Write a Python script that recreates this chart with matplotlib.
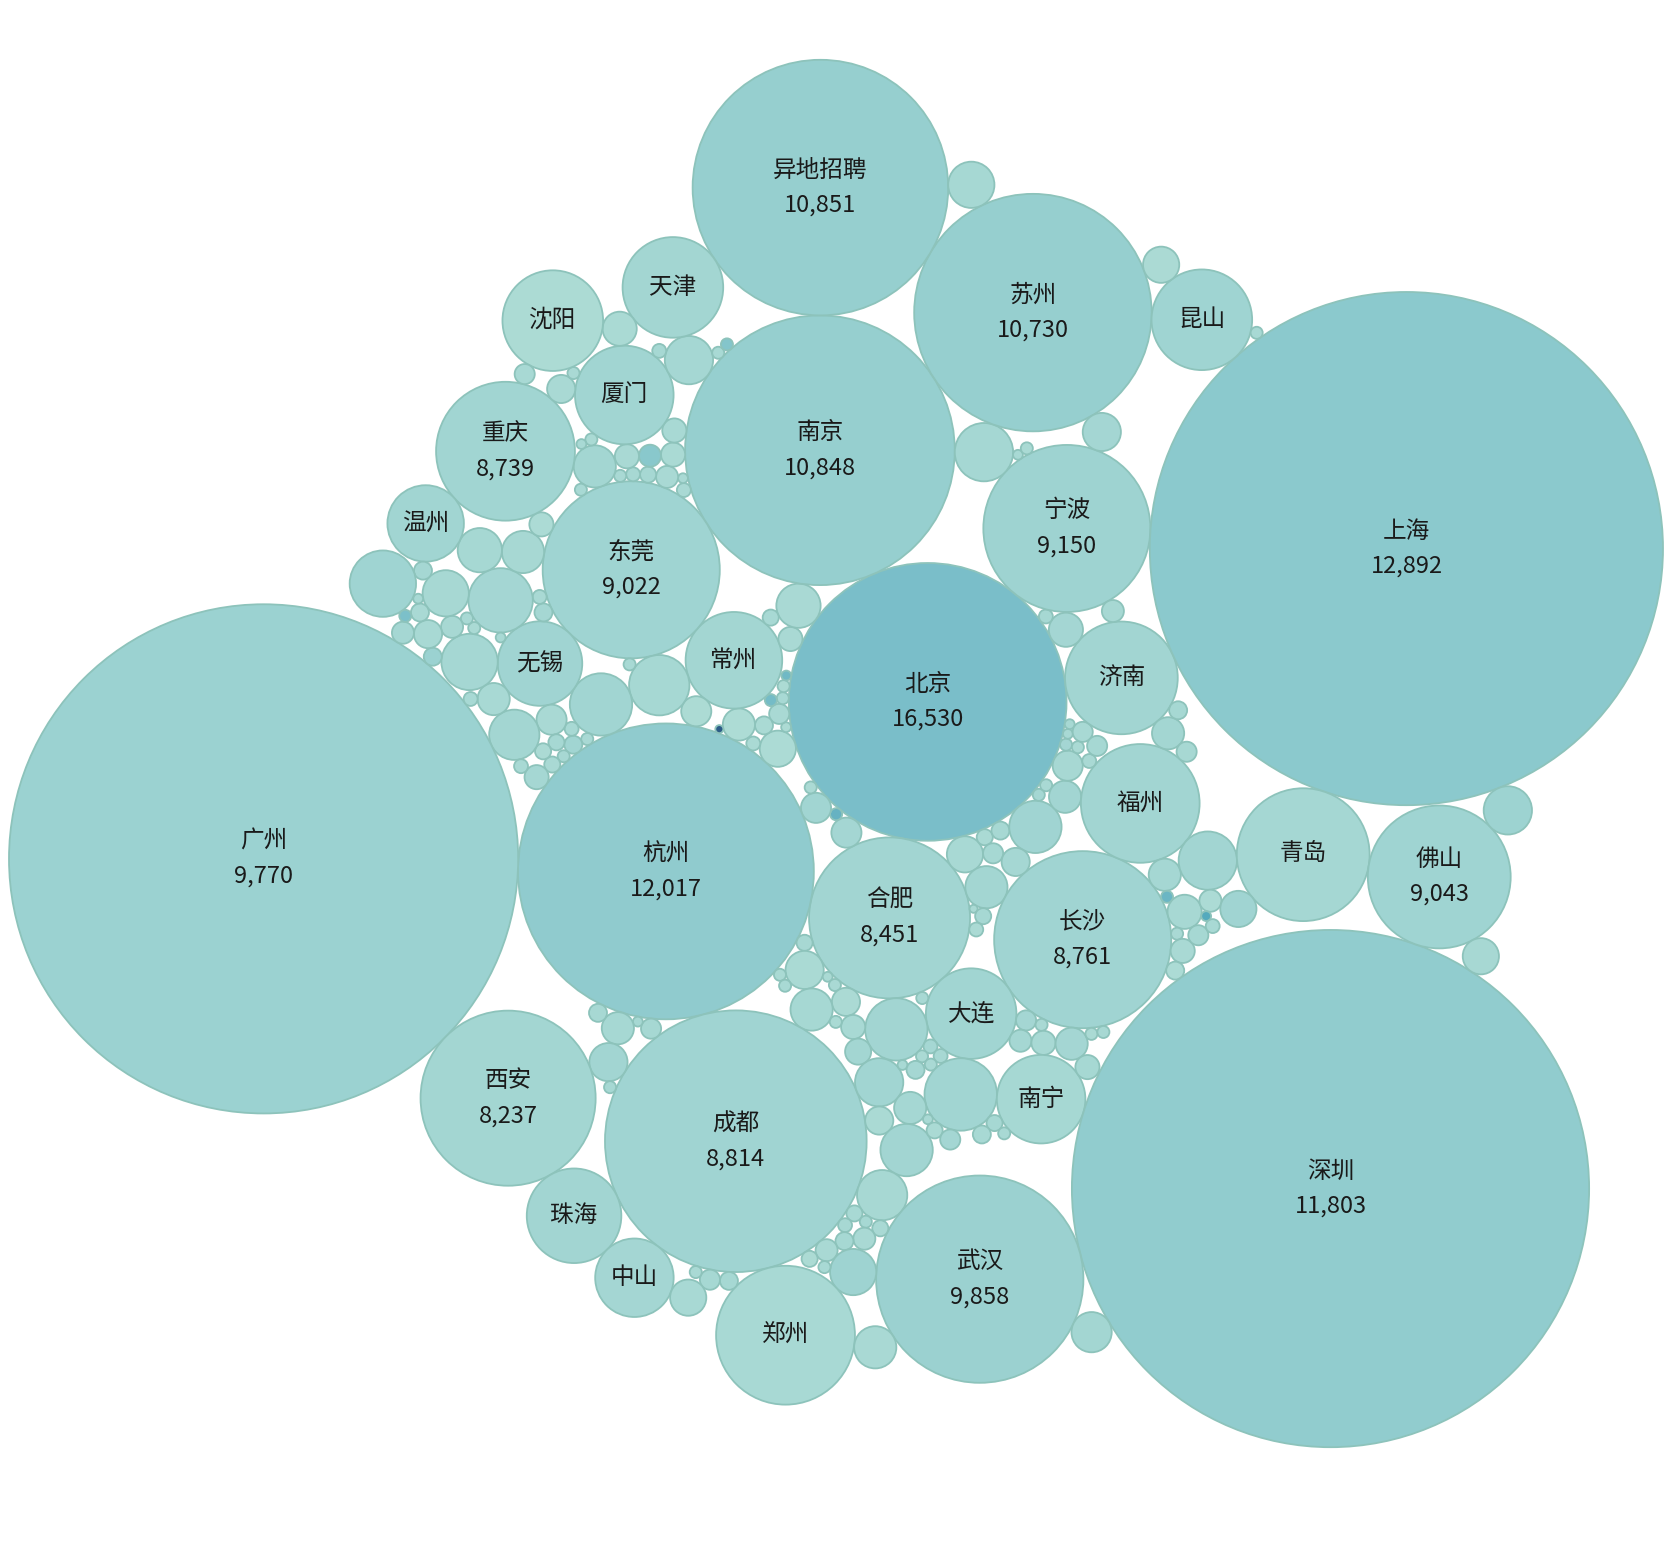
import numpy as np
import matplotlib
matplotlib.use('Agg')
import matplotlib.pyplot as plt
from matplotlib.colors import LinearSegmentedColormap, Normalize
from matplotlib.patches import Circle

# named cities: job count (bubble size) and average salary (colour + label)
cities = ['北京', '合肥', '杭州', '长沙', '福州', '大连', '常州', '济南', '南京', '宁波',
          '东莞', '成都', '上海', '青岛', '南宁', '无锡', '深圳', '佛山', '苏州', '昆山',
          '武汉', '广州', '西安', '异地招聘', '厦门', '珠海', '重庆', '温州', '天津', '郑州',
          '中山', '沈阳']
city_jobs = [4761, 1600, 5402, 1936, 870, 506, 576, 784, 4489, 1722,
             1936, 4225, 16256, 1089, 484, 441, 16512, 1260, 3481, 625,
             2652, 16002, 1892, 4032, 600, 552, 1190, 361, 625, 1190,
             380, 625]
city_salary = [16530, 8451, 12017, 8761, 8500, 8700, 8300, 8400, 10848, 9150,
               9022, 8814, 12892, 8000, 7700, 8900, 11803, 9043, 10730, 9000,
               9858, 9770, 8237, 10851, 8600, 8500, 8739, 8600, 8300, 7500,
               8200, 6800]
show_value = [True, True, True, True, False, False, False, False, True, True,
              True, True, True, False, False, False, True, True, True, False,
              True, True, True, True, False, False, True, False, False, False,
              False, False]

# unlabeled small cities
small_jobs = [81, 56, 9, 16, 56, 20, 9, 25, 169,
              110, 49, 81, 9, 4, 9, 6, 64, 56, 25, 20, 16, 12, 9, 9, 12, 9, 6, 12, 64, 9, 6, 9, 6,
              36, 16, 25, 25, 121, 72, 64, 4, 90, 56, 16, 9, 12, 9, 6, 9, 210, 240,
              30, 49, 110, 36, 64, 225,
              240, 25, 9, 9, 12, 25, 42, 20, 144,
              210, 30, 9, 9, 12, 9, 6, 20, 9, 324, 36, 64, 72, 30, 64, 9, 9, 9, 36, 36, 25,
              9, 9, 20, 6, 25, 12, 81, 49, 169, 6, 6,
              20, 16, 12, 12, 16, 25, 9, 9, 56, 90, 16, 156, 20, 16, 16,
              9, 6, 36, 156, 64, 90, 12, 6, 30, 20, 64, 20, 36, 16, 30, 36, 12, 12,
              256, 16, 9, 9, 144, 36, 110, 144, 196, 12, 110, 9, 6,
              9, 16, 9, 9,
              12, 36, 30, 20, 20, 30, 121, 132, 9, 9, 30,
              6, 9, 49, 16, 9,
              132, 20, 12, 49, 20, 110, 72, 100, 30, 20, 9, 6, 9, 81, 272, 25, 25, 81, 9, 132, 81,
              9]
small_salary = [7400, 8200, 20500, 7000, 8600, 7600, 6900, 7800, 8900,
                8300, 7900, 6600, 8000, 7000, 7200, 6800, 8400, 7600, 7300, 7100, 7800, 6900, 7500,
                8100, 7000, 6700, 7400, 7200, 6300, 17500, 18500, 7000, 7600,
                7200, 7600, 7400, 7800, 7300, 8200, 8300, 48000, 7000, 6800, 7400, 7100, 7700, 7500,
                7000, 7300, 7900, 8400,
                7600, 6900, 7800, 7400, 8000, 7700,
                8600, 8200, 7500, 7000, 7900, 7600, 8300, 7800, 8700,
                8400, 7900, 7300, 19500, 7600, 7100, 7400, 8000, 7200, 8600, 7500, 8100, 7600, 6500,
                8000, 7200, 7400, 7000, 7700, 7300, 7800,
                7600, 7200, 6600, 23500, 7800, 7400, 8800, 7000, 8500, 7500, 7300,
                8600, 7800, 7500, 7300, 7100, 8200, 7600, 7000, 7300, 8100, 7700, 7600, 7400, 7200, 6900,
                7500, 7700, 7900, 8300, 7800, 8400, 7400, 7200, 7300, 7600, 7500, 7900, 7100, 7700,
                13500, 7400, 7600, 7200,
                8200, 7400, 7700, 7200, 9400, 7300, 7600, 7900, 8000, 7500, 8300, 7100, 7400,
                7500, 7300, 7800, 7100,
                7600, 6500, 7200, 9800, 7700, 7300, 7800, 9100, 7500, 7400, 7600,
                7500, 14500, 7300, 6800, 7400,
                7600, 8000, 7800, 7500, 7300, 7200, 7100, 8300, 8000, 7700, 16000, 7500, 7200, 6900,
                9000, 7800, 7400, 7600, 7300, 7800, 7400,
                7500]

palette = ['#bce4d8', '#aedcd5', '#a1d5d2', '#95cecf', '#89c8cc', '#7ec1ca', '#72bac6',
           '#66b2c2', '#59acbe', '#4ba5ba', '#419eb6', '#3b96b2', '#358ead', '#3586a7',
           '#347ea1', '#32779b', '#316f96', '#2f6790', '#2d608a', '#2c5985']


def pack_siblings(radii):
    """front-chain circle packing (same idea as d3.packSiblings)"""
    n = len(radii)
    r = np.asarray(radii, dtype=float)
    x = np.zeros(n)
    y = np.zeros(n)

    def place(p, q, c):
        dx, dy = x[p] - x[q], y[p] - y[q]
        d2 = dx * dx + dy * dy
        if d2:
            a2 = (r[q] + r[c]) ** 2
            b2 = (r[p] + r[c]) ** 2
            if a2 > b2:
                t = (d2 + b2 - a2) / (2 * d2)
                s = np.sqrt(max(0.0, b2 / d2 - t * t))
                x[c] = x[p] - t * dx - s * dy
                y[c] = y[p] - t * dy + s * dx
            else:
                t = (d2 + a2 - b2) / (2 * d2)
                s = np.sqrt(max(0.0, a2 / d2 - t * t))
                x[c] = x[q] + t * dx - s * dy
                y[c] = y[q] + t * dy + s * dx
        else:
            x[c] = x[q] + r[c]
            y[c] = y[q]

    def hits(i, j):
        dr = r[i] + r[j] - 1e-6
        return dr > 0 and dr * dr > (x[j] - x[i]) ** 2 + (y[j] - y[i]) ** 2

    def score(i):
        j = nxt[i]
        ab = r[i] + r[j]
        cx = (x[i] * r[j] + x[j] * r[i]) / ab
        cy = (y[i] * r[j] + y[j] * r[i]) / ab
        return cx * cx + cy * cy

    x[0] = -r[1]
    x[1] = r[0]
    place(1, 0, 2)
    nxt = {0: 1, 1: 2, 2: 0}
    prv = {1: 0, 2: 1, 0: 2}
    a, b = 0, 1
    i = 3
    while i < n:
        place(a, b, i)
        j, k, sj, sk = nxt[b], prv[a], r[b], r[a]
        retry = False
        while True:
            if sj <= sk:
                if hits(j, i):
                    b = j
                    nxt[a], prv[b] = b, a
                    retry = True
                    break
                sj += r[j]
                j = nxt[j]
            else:
                if hits(k, i):
                    a = k
                    nxt[a], prv[b] = b, a
                    retry = True
                    break
                sk += r[k]
                k = prv[k]
            if j == nxt[k]:
                break
        if retry:
            continue
        prv[i], nxt[i] = a, b
        nxt[a] = i
        prv[b] = i
        b = i
        aa = score(a)
        c = nxt[b]
        while c != b:
            ca = score(c)
            if ca < aa:
                a, aa = c, ca
            c = nxt[c]
        b = nxt[a]
        i += 1
    return x, y, r


# drawing order: small bubbles spread between the named cities
chunks = np.array_split(np.arange(len(small_jobs)), len(cities) - 1)
names, jobs, salary, valflag = [], [], [], []
for ci in range(len(cities)):
    names.append(cities[ci])
    jobs.append(city_jobs[ci])
    salary.append(city_salary[ci])
    valflag.append(show_value[ci])
    if ci >= 1:
        for si in chunks[ci - 1]:
            names.append('')
            jobs.append(small_jobs[si])
            salary.append(small_salary[si])
            valflag.append(False)

radii = np.sqrt(np.array(jobs, dtype=float))
px, py, r = pack_siblings(radii)

# orient the packed layout (mirror across a line through the first bubble)
phi2 = np.deg2rad(100)
x = px * np.cos(phi2) + py * np.sin(phi2)
y = px * np.sin(phi2) - py * np.cos(phi2)

fig = plt.figure(figsize=(16.8, 15.62), dpi=100)
ax = fig.add_axes([0, 0, 1, 1])
ax.axis('off')

cmap = LinearSegmentedColormap.from_list('blue_teal', palette)
norm = Normalize(vmin=3800, vmax=49000)

for xi, yi, ri, sv in zip(x, y, r, salary):
    ax.add_patch(Circle((xi, yi), ri, facecolor=cmap(norm(sv)),
                        edgecolor='#8dc3bb', linewidth=1.3))

# fit the packed layout into the picture
x0, x1 = (x - r).min(), (x + r).max()
y0, y1 = (y - r).min(), (y + r).max()
s = min(1654 / (x1 - x0), 1485 / (y1 - y0))
cx, cy = (x0 + x1) / 2, (y0 + y1) / 2
ax.set_xlim(cx - 836 / s, cx + (1680 - 836) / s)
ax.set_ylim(cy + (1562 - 753.5) / s, cy - 753.5 / s)

off = 17.5 / s
cjk = ['Noto Sans CJK SC', 'DejaVu Sans']
for nm, xi, yi, sv, vf in zip(names, x, y, salary, valflag):
    if not nm:
        continue
    if vf:
        ax.text(xi, yi - off, nm, ha='center', va='center', fontsize=17,
                family=cjk, color='#1a1a1a')
        ax.text(xi, yi + off, f'{sv:,}', ha='center', va='center', fontsize=17,
                family=cjk, color='#1a1a1a')
    else:
        ax.text(xi, yi, nm, ha='center', va='center', fontsize=17,
                family=cjk, color='#1a1a1a')

fig.savefig('out.png', dpi=100)
